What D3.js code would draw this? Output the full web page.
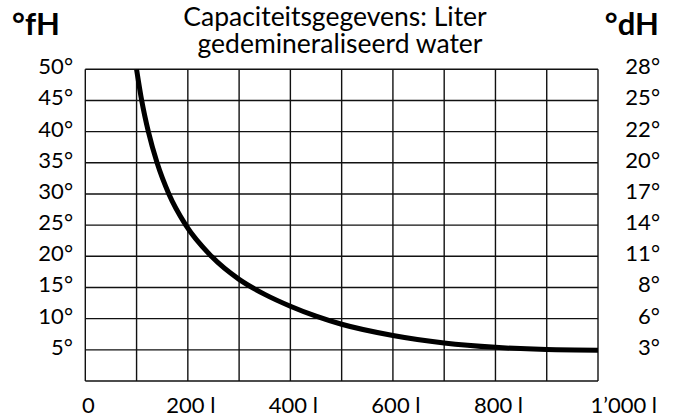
<!DOCTYPE html>
<html>
<head>
<meta charset="utf-8">
<script src="https://cdn.jsdelivr.net/npm/d3@7"></script>
<style>
  body { margin: 0; background: #fff; }
  text { font-family: Lato, "Noto Sans", sans-serif; fill: #000; }
</style>
</head>
<body>
<div id="chart"></div>
<script>
WIDTH = 673;
HEIGHT = 418;

// curve: litres vs hardness in °fH
var litres = [100, 110, 123, 140, 163, 196, 246, 300, 350, 400, 450, 500, 600, 700, 800, 900, 1000];
var hardness = [50, 45, 40, 35, 30, 25, 20, 16.3, 13.9, 12.0, 10.4, 9.1, 7.3, 6.1, 5.4, 5.05, 4.95];

var fhTicks = [5, 10, 15, 20, 25, 30, 35, 40, 45, 50];
var dhLabels = [3, 6, 8, 11, 14, 17, 20, 22, 25, 28];
var xTicks = [0, 200, 400, 600, 800, 1000];
var xLabels = ["0", "200 l", "400 l", "600 l", "800 l", "1\u2019000 l"];
var gridX = d3.range(0, 1001, 100);
var gridY = d3.range(0, 51, 5);

var margin = { top: 69.3, right: 75, bottom: 37, left: 85.3 };

var svg = d3
  .select("#chart")
  .append("svg")
  .attr("width", WIDTH)
  .attr("height", HEIGHT);

var x = d3.scaleLinear().domain([0, 1000]).range([margin.left, WIDTH - margin.right]);
var y = d3.scaleLinear().domain([0, 50]).range([HEIGHT - margin.bottom, margin.top]);

// grid
var grid_g = svg.append("g").attr("stroke", "#111").attr("stroke-width", 1.4);
grid_g
  .selectAll("line.v")
  .data(gridX)
  .enter()
  .append("line")
  .attr("class", "v")
  .attr("x1", d => x(d))
  .attr("x2", d => x(d))
  .attr("y1", y(0))
  .attr("y2", y(50));
grid_g
  .selectAll("line.h")
  .data(gridY)
  .enter()
  .append("line")
  .attr("class", "h")
  .attr("x1", x(0))
  .attr("x2", x(1000))
  .attr("y1", d => y(d))
  .attr("y2", d => y(d));

// curve
var line = d3
  .line()
  .x(d => x(d[0]))
  .y(d => y(d[1]))
  .curve(d3.curveMonotoneX);

svg
  .append("path")
  .datum(d3.zip(litres, hardness))
  .attr("d", line)
  .attr("fill", "none")
  .attr("stroke", "#000")
  .attr("stroke-width", 5);

// left labels (°fH)
svg
  .selectAll("text.fh")
  .data(fhTicks)
  .enter()
  .append("text")
  .attr("class", "fh")
  .attr("x", 73)
  .attr("y", d => y(d) + 5)
  .attr("text-anchor", "end")
  .style("font-size", "22px")
  .text(d => d + "°");

// right labels (°dH)
svg
  .selectAll("text.dh")
  .data(dhLabels)
  .enter()
  .append("text")
  .attr("class", "dh")
  .attr("x", 660)
  .attr("y", (d, i) => y(fhTicks[i]) + 5)
  .attr("text-anchor", "end")
  .style("font-size", "22px")
  .text(d => d + "°");

// x labels
svg
  .selectAll("text.xl")
  .data(xTicks)
  .enter()
  .append("text")
  .attr("class", "xl")
  .attr("x", (d, i) => (i == xTicks.length - 1 ? 657 : x(d) + 3))
  .attr("y", 413)
  .attr("text-anchor", (d, i) => (i == xTicks.length - 1 ? "end" : "middle"))
  .style("font-size", "22px")
  .text((d, i) => xLabels[i]);

// unit headers
svg
  .append("text")
  .attr("x", 12)
  .attr("y", 35)
  .style("font-size", "31px")
  .style("font-weight", "bold")
  .text("°fH");
svg
  .append("text")
  .attr("x", 659)
  .attr("y", 35)
  .attr("text-anchor", "end")
  .style("font-size", "31px")
  .style("font-weight", "bold")
  .text("°dH");

// title, two lines
var title = svg.append("text").attr("text-anchor", "middle").style("font-size", "26.5px");
title.append("tspan").attr("x", 335).attr("y", 26).text("Capaciteitsgegevens: Liter");
title.append("tspan").attr("x", 340).attr("y", 53).text("gedemineraliseerd water");
</script>
</body>
</html>
